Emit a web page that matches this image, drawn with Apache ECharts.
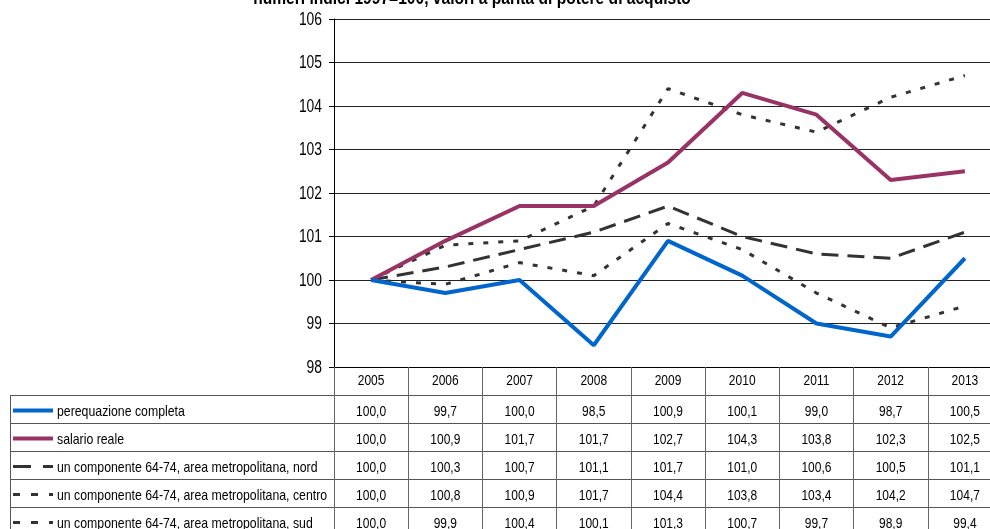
<!DOCTYPE html>
<html>
<head>
<meta charset="utf-8">
<script src="https://cdn.jsdelivr.net/npm/echarts@6/dist/echarts.min.js"></script>
<style>
html,body{margin:0;padding:0;background:#fff;overflow:hidden;width:990px;height:529px;}
#c{width:1002px;height:529px;}
</style>
</head>
<body>
<div id="c"></div>
<script>
const years = ['2005','2006','2007','2008','2009','2010','2011','2012','2013'];
const yTicks = [98, 99, 100, 101, 102, 103, 104, 105, 106];
const seriesNames = [
  'perequazione completa',
  'salario reale',
  'un componente 64-74, area metropolitana, nord',
  'un componente 64-74, area metropolitana, centro',
  'un componente 64-74, area metropolitana, sud'
];
const perequazione = [100.0, 99.7, 100.0, 98.5, 100.9, 100.1, 99.0, 98.7, 100.5];
const salario = [100.0, 100.9, 101.7, 101.7, 102.7, 104.3, 103.8, 102.3, 102.5];
const nord = [100.0, 100.3, 100.7, 101.1, 101.7, 101.0, 100.6, 100.5, 101.1];
const centro = [100.0, 100.8, 100.9, 101.7, 104.4, 103.8, 103.4, 104.2, 104.7];
const sud = [100.0, 99.9, 100.4, 100.1, 101.3, 100.7, 99.7, 98.9, 99.4];
const titleText = 'numeri indici 1997=100, valori a parità di potere di acquisto';

const FONT = "'Liberation Sans', Arial, sans-serif";
const allData = [perequazione, salario, nord, centro, sud];
const styles = [
  {color:'#0066CC', width:4, type:'solid'},
  {color:'#993366', width:4, type:'solid'},
  {color:'#333333', width:3, type:[17,9]},
  {color:'#333333', width:3, type:[5,10]},
  {color:'#333333', width:3, type:[5,10]}
];
const legendDash = [null, null, [18,12], [7,11], [7,11]];

const chart = echarts.init(document.getElementById('c'), null, {renderer:'canvas', width: 1002, height: 529});

const drawOrder = [4,3,2,1,0];
const series = drawOrder.map(i => ({
  name: seriesNames[i],
  type: 'line',
  data: allData[i],
  symbol: 'none',
  animation: false,
  z: 2 + (4 - i),
  lineStyle: {color: styles[i].color, width: styles[i].width, type: styles[i].type, cap: 'butt'}
}));

chart.setOption({
  animation: false,
  grid: {left: 334, right: 0, top: 19, bottom: 162, containLabel: false},
  xAxis: {
    type: 'category',
    data: years,
    boundaryGap: true,
    axisLine: {lineStyle: {color: '#000', width: 1}},
    axisTick: {show: true, interval: 0, length: 162, lineStyle: {color: '#666', width: 1}},
    axisLabel: {show: false},
    splitLine: {show: false}
  },
  yAxis: {
    type: 'value',
    min: 98, max: 106, interval: 1,
    axisLine: {show: true, lineStyle: {color: '#000', width: 1}},
    axisTick: {show: true, length: 5, lineStyle: {color: '#000'}},
    axisLabel: {show: false},
    splitLine: {show: true, lineStyle: {color: '#222', width: 1}}
  },
  series: series
});

function txt(x, y, text, size, align, bold, sx) {
  return {
    type: 'text', silent: true, x: x, y: y, scaleX: sx, scaleY: 1,
    style: {text: text, font: (bold ? 'bold ' : '') + size + 'px ' + FONT, fill: '#000', align: align, verticalAlign: 'middle'}
  };
}

const rowLines = [395, 423, 451, 479, 507];
const graphics = [];
graphics.push(txt(472, -1, titleText, 19, 'center', true, 0.82));

// y-axis labels
yTicks.forEach(v => {
  const py = chart.convertToPixel({yAxisIndex: 0}, v);
  graphics.push(txt(322, py + 1, String(v), 18, 'right', false, 0.77));
});
// header row (years)
years.forEach((yr, c) => {
  const px = chart.convertToPixel({xAxisIndex: 0}, c);
  graphics.push(txt(px, 381, yr, 15, 'center', false, 0.8));
});

rowLines.forEach(y => {
  graphics.push({type: 'line', silent: true, shape: {x1: 10, y1: y + 0.5, x2: 1002, y2: y + 0.5}, style: {stroke: '#555', lineWidth: 1}});
});
graphics.push({type: 'line', silent: true, shape: {x1: 10.5, y1: 395, x2: 10.5, y2: 529}, style: {stroke: '#555', lineWidth: 1}});

for (let r = 0; r < 5; r++) {
  const yText = rowLines[r] + 17;
  const ySample = rowLines[r] + 15.5;
  const st = styles[r];
  graphics.push({
    type: 'line', silent: true,
    shape: {x1: 13, y1: ySample, x2: 53, y2: ySample},
    style: {stroke: st.color, lineWidth: r < 2 ? 4 : 3, lineDash: legendDash[r]}
  });
  graphics.push(txt(57, yText, seriesNames[r], 15, 'left', false, 0.82));
  for (let c = 0; c < years.length; c++) {
    const px = chart.convertToPixel({xAxisIndex: 0}, c);
    graphics.push(txt(px, yText, allData[r][c].toFixed(1).replace('.', ','), 15, 'center', false, 0.8));
  }
}
chart.setOption({graphic: graphics});
</script>
</body>
</html>
